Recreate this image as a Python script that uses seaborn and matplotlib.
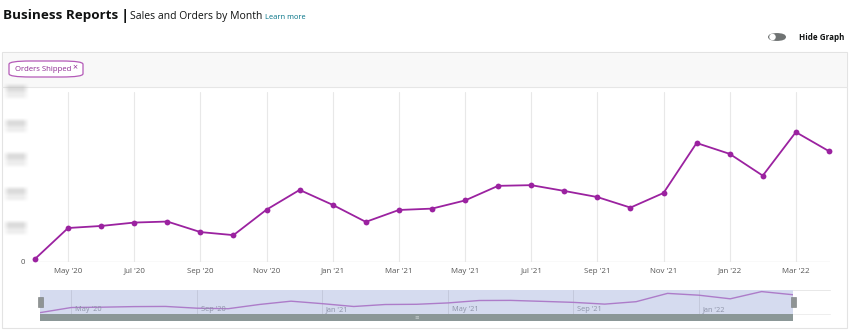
import matplotlib
matplotlib.use("Agg")
import matplotlib.pyplot as plt
import seaborn as sns
import pandas as pd
import numpy as np
from matplotlib.patches import Rectangle, FancyBboxPatch, Ellipse

# ---------------- data ----------------
months = ["Apr '20", "May '20", "Jun '20", "Jul '20", "Aug '20", "Sep '20", "Oct '20",
          "Nov '20", "Dec '20", "Jan '21", "Feb '21", "Mar '21", "Apr '21", "May '21",
          "Jun '21", "Jul '21", "Aug '21", "Sep '21", "Oct '21", "Nov '21", "Dec '21",
          "Jan '22", "Feb '22", "Mar '22", "Apr '22"]
orders_shipped = [0.09, 1.00, 1.06, 1.16, 1.19, 0.88, 0.79, 1.54, 2.12, 1.68, 1.18, 1.53,
                  1.57, 1.81, 2.24, 2.26, 2.09, 1.91, 1.60, 2.03, 3.50, 3.18, 2.54, 3.82, 3.26]
main_tick_labels = ["May '20", "Jul '20", "Sep '20", "Nov '20", "Jan '21", "Mar '21",
                    "May '21", "Jul '21", "Sep '21", "Nov '21", "Jan '22", "Mar '22"]
nav_tick_labels = ["May '20", "Sep '20", "Jan '21", "May '21", "Sep '21", "Jan '22"]
y_ticks = [0, 1, 2, 3, 4, 5]

df = pd.DataFrame({"idx": range(len(months)), "month": months, "orders": orders_shipped})

# ---------------- style ----------------
sns.set_style("white")
plt.rcParams["font.family"] = ["Open Sans", "DejaVu Sans"]

W, H = 850, 331
fig = plt.figure(figsize=(W / 100, H / 100), dpi=100)
fig.patch.set_facecolor("white")


def fx(px):
    return px / W


def fy(py):
    return 1 - py / H


def frect(x0, y0, x1, y1, **kw):
    r = Rectangle((fx(x0), fy(y1)), fx(x1) - fx(x0), fy(y0) - fy(y1),
                  transform=fig.transFigure, **kw)
    fig.patches.append(r)
    return r


PURPLE = "#9b22a0"
DARK = "#0f1111"

# ---------------- header ----------------
fig.text(fx(3), fy(16), "Business Reports", fontsize=9.7, fontweight="bold", color=DARK,
         va="center", ha="left")
fig.text(fx(121), fy(16), "|", fontsize=11, fontweight="bold", color=DARK, va="center")
fig.text(fx(129.5), fy(17), "Sales and Orders by Month", fontsize=7.5, color=DARK, va="center")
fig.text(fx(265), fy(17.5), "Learn more", fontsize=5.4, color="#007185", va="center")

# toggle
tog = FancyBboxPatch((fx(768), fy(41)), fx(18), fy(33) - fy(41),
                     boxstyle="round,pad=0,rounding_size=0.012", transform=fig.transFigure,
                     facecolor="#6f7373", edgecolor="none", zorder=3)
fig.patches.append(tog)
knob = Ellipse((fx(772.5), fy(37)), fx(6.5), 6.5 / H,
               transform=fig.transFigure, facecolor="white", edgecolor="none", zorder=4)
fig.patches.append(knob)
fig.text(fx(799), fy(37), "Hide Graph", fontsize=5.8, fontweight="bold", color=DARK, va="center")

# ---------------- panel ----------------
frect(2, 52, 847, 328, facecolor="white", edgecolor="#e3e3e3", linewidth=0.8, zorder=-3)
frect(2.5, 52.5, 846.5, 87, facecolor="#f8f8f8", edgecolor="none", zorder=-2)
fig.add_artist(plt.Line2D([fx(2), fx(847)], [fy(87), fy(87)], color="#e6e6e6", lw=0.8,
                          transform=fig.transFigure, zorder=-1))

pill = FancyBboxPatch((fx(9), fy(77)), fx(74), fy(61) - fy(77),
                      boxstyle="round,pad=0,rounding_size=0.025", transform=fig.transFigure,
                      facecolor="white", edgecolor="#b45ab8", linewidth=0.9, zorder=2,
                      mutation_aspect=H / W)
fig.patches.append(pill)
fig.text(fx(15), fy(69.5), "Orders Shipped", fontsize=5.6, color="#8e2a93", va="center", zorder=3)
fig.text(fx(72.5), fy(67.5), "×", fontsize=6.3, color="#8e2a93", va="center", zorder=3)

# ---------------- main chart ----------------
x0_px, step_px = 35.0, 33.08
ax = fig.add_axes([fx(30), fy(262), fx(830) - fx(30), fy(92) - fy(262)])
ax.set_zorder(5)
ax.set_facecolor("none")
ax.set_xlim((30 - x0_px) / step_px, (830 - x0_px) / step_px)
ax.set_ylim(0, 5)

tick_pos = [months.index(m) for m in main_tick_labels]
for p in tick_pos:
    ax.axvline(p, color="#e8e8e8", lw=0.8, zorder=0)
ax.axhline(0, color="#e3e3e3", lw=1.0, zorder=0.5)

sns.lineplot(data=df, x="idx", y="orders", ax=ax, color=PURPLE, lw=1.3,
             marker="o", markersize=4.2, markeredgewidth=0, clip_on=False, zorder=3)

ax.set_xticks(tick_pos)
ax.set_xticklabels(main_tick_labels, fontsize=5.7, color="#555555")
ax.tick_params(axis="x", length=0, pad=4)
ax.set_yticks([])
ax.set_xlabel("")
ax.set_ylabel("")
for s in ax.spines.values():
    s.set_visible(False)

# y tick labels: "0" visible, the others are blurred out in the reference
ax.text(-0.009, 0, "0", transform=ax.get_yaxis_transform(), fontsize=5.6, color="#555555",
        ha="center", va="center")


def smooth(n, lo, hi, soft):
    t = np.arange(n) + 0.5
    a = np.clip((t - lo) / soft + 0.5, 0, 1)
    b = np.clip((hi - t) / soft + 0.5, 0, 1)
    return np.minimum(a, b)


bw, bh = 30, 20
hx = smooth(bw, 5, 25, 6)
top = np.outer(smooth(bh, 4, 10, 4), hx) * 0.5
bot = np.outer(smooth(bh, 10, 16, 4), hx) * 0.25
alpha = np.clip(top + bot, 0, 1)
blob = np.zeros((bh, bw, 4))
blob[..., :3] = 0.72
blob[..., 3] = alpha
for t in y_ticks[1:]:
    py = 262 - t * 34
    bax = fig.add_axes([fx(1), fy(py + 10), fx(bw), bh / H])
    bax.imshow(blob, interpolation="bilinear", aspect="auto")
    bax.axis("off")

# ---------------- navigator ----------------
frect(40, 290, 793, 314, facecolor="#d5dbef", edgecolor="none", zorder=0.6)
fig.add_artist(plt.Line2D([fx(40), fx(830)], [fy(290), fy(290)], color="#e8e8e8", lw=0.7,
                          transform=fig.transFigure, zorder=0.5))
fig.add_artist(plt.Line2D([fx(40), fx(830)], [fy(314), fy(314)], color="#eeeeee", lw=0.7,
                          transform=fig.transFigure, zorder=0.5))
frect(40, 314, 793, 320.5, facecolor="#8b9797", edgecolor="none", zorder=1)
fig.text(fx(416.5), fy(317.2), "≡", fontsize=4, color="#c8d0d0", ha="center", va="center",
         zorder=2)

nav = fig.add_axes([fx(40), fy(314), fx(793) - fx(40), fy(290) - fy(314)])
nav.set_zorder(4)
nav.set_facecolor("none")
nav.set_xlim(0, len(months) - 1)
nav.set_ylim(-0.15, 4.1)
nav_pos = [months.index(m) for m in nav_tick_labels]
for p, lab in zip(nav_pos, nav_tick_labels):
    nav.axvline(p, color="#c4c9dc", lw=0.7, zorder=0)
    nav.text(p + 0.12, 0.18, lab, transform=nav.get_xaxis_transform(), fontsize=5.3,
             color="#8d93a8", ha="left", va="center")
sns.lineplot(data=df, x="idx", y="orders", ax=nav, color="#ad7cc9", lw=1.0, zorder=2)
nav.set_xticks([])
nav.set_yticks([])
nav.set_xlabel("")
nav.set_ylabel("")
for s in nav.spines.values():
    s.set_visible(False)

# handles
frect(38, 297, 43, 306.5, facecolor="#8f9494", edgecolor="#777b7b", linewidth=0.4, zorder=6)
frect(791, 297, 796, 306.5, facecolor="#8f9494", edgecolor="#777b7b", linewidth=0.4, zorder=6)

fig.savefig("out.png", dpi=100, facecolor="white")
